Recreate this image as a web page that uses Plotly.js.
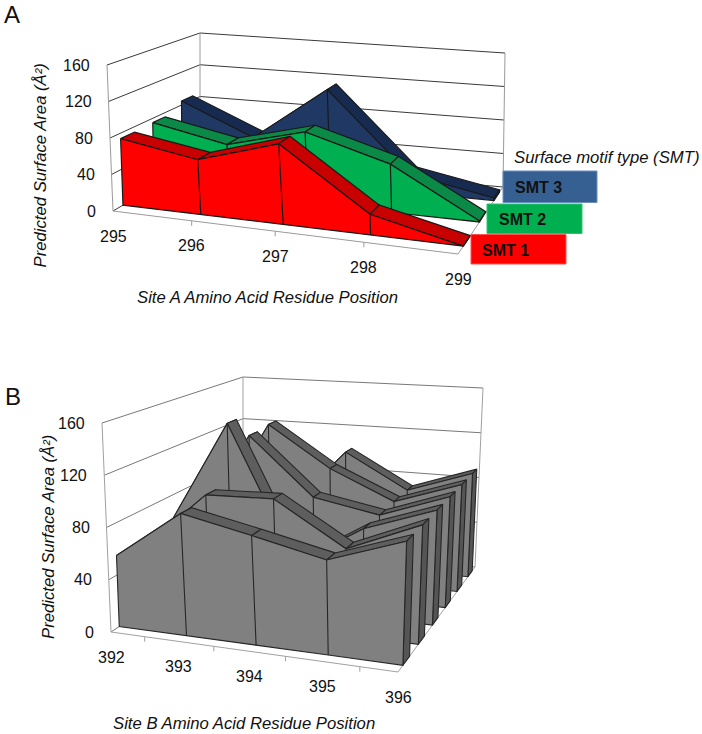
<!DOCTYPE html>
<html>
<head>
<meta charset="utf-8">
<script src="https://cdn.plot.ly/plotly-3.0.1.min.js"></script>
<style>html,body{margin:0;padding:0;background:#fff}#chart{width:702px;height:734px}</style>
</head>
<body>
<div id="chart"></div>
<script>
// ---------- data ----------
const categoriesA = ['295','296','297','298','299'];
const smt1 = [74, 60, 87, 22, 0];
const smt2 = [75, 58, 81, 54, 1];
const smt3 = [85, 48, 113, 21, 3];
const categoriesB = ['392','393','394','395','396'];
const siteB1 = [55, 93, 82, 70, 90];
const siteB2 = [50, 97, 99, 66, 90];
const siteB3 = [55, 146, 37, 70, 90];
const siteB4 = [40, 128, 80, 70, 90];
const siteB5 = [40, 130, 95, 71, 90];
const siteB6 = [45, 45, 101, 71, 90];
const yTicks = [0, 40, 80, 120, 160];
const legendNames = ['SMT 1', 'SMT 2', 'SMT 3'];

// ---------- projection of the two 3D boxes onto the page ----------
function quad(p) {
  const [p0,p1,p2,p3] = p;
  const dx1=p1[0]-p2[0], dx2=p3[0]-p2[0], sx=p0[0]-p1[0]+p2[0]-p3[0];
  const dy1=p1[1]-p2[1], dy2=p3[1]-p2[1], sy=p0[1]-p1[1]+p2[1]-p3[1];
  const den=dx1*dy2-dx2*dy1;
  const g=(sx*dy2-dx2*sy)/den, h=(dx1*sy-sx*dy1)/den;
  const a=p1[0]-p0[0]+g*p1[0], b=p3[0]-p0[0]+h*p3[0], c=p0[0];
  const d=p1[1]-p0[1]+g*p1[1], e=p3[1]-p0[1]+h*p3[1], f=p0[1];
  return (u,v)=>{const w=g*u+h*v+1;return [(a*u+b*v+c)/w,(d*u+e*v+f)/w];};
}
function box(floor, top, yMax, warp) {
  const F=quad(floor), T=quad(top);
  return (u0,v,val)=>{
    const u=u0+warp*u0*(1-u0);
    const a=F(u,v), b=T(u,v), t=val/yMax;
    return [a[0]+(b[0]-a[0])*t, a[1]+(b[1]-a[1])*t];
  };
}
const projA = box([[113,211],[458,254],[503,187],[200,160]],
                  [[107,65],[460,100],[505,53],[200,33]], 160, 0.07);
const projB = box([[111,632],[398,672],[475,567],[243,543.5]],
                  [[102,423],[404,449],[483,388],[243,377]], 160, 0.03);

const traces = [];
const shapes = [];
const annotations = [];

function addPoly(pts, fill, lineColor, width) {
  const xs=pts.map(p=>p[0]), ys=pts.map(p=>p[1]);
  xs.push(xs[0]); ys.push(ys[0]);
  traces.push({type:'scatter',mode:'lines',x:xs,y:ys,fill:'toself',fillcolor:fill,
    line:{color:lineColor,width:width},hoverinfo:'skip',showlegend:false});
}
function addLine(a, b, color, width) {
  traces.push({type:'scatter',mode:'lines',x:[a[0],b[0]],y:[a[1],b[1]],
    line:{color:color,width:width},hoverinfo:'skip',showlegend:false});
}
function addText(x, y, text, size, opts) {
  annotations.push(Object.assign({xref:'x',yref:'y',x:x,y:y,text:text,showarrow:false,
    font:{family:'Liberation Sans, Arial, sans-serif',size:size,color:'#111'},
    xanchor:'center',yanchor:'middle'},opts||{}));
}

function drawWalls(proj, gridColor, frameColor, gw) {
  yTicks.forEach(t=>{
    addLine(proj(0,0,t), proj(0,1,t), gridColor, gw);
    addLine(proj(0,1,t), proj(1,1,t), gridColor, gw);
  });
  addLine(proj(0,0,0), proj(0,0,160), frameColor, 1);
  addLine(proj(0,1,0), proj(0,1,160), frameColor, 1);
  addLine(proj(1,1,0), proj(1,1,160), frameColor, 1);
  addLine(proj(0,0,0), proj(1,0,0), frameColor, 1);
  addLine(proj(1,0,0), proj(1,1,0), frameColor, 1);
}

function drawBand(proj, values, z0, z1, face, strip, side, edge, w) {
  const n = values.length;
  const u = i => i/(n-1);
  for (let i=0;i<n-1;i++) {
    addPoly([proj(u(i),z0,values[i]),proj(u(i+1),z0,values[i+1]),
             proj(u(i+1),z1,values[i+1]),proj(u(i),z1,values[i])],strip,edge,w);
  }
  addPoly([proj(1,z0,0),proj(1,z1,0),proj(1,z1,values[n-1]),proj(1,z0,values[n-1])],side,edge,w);
  const pts=[];
  for (let i=0;i<n;i++) pts.push(proj(u(i),z0,values[i]));
  for (let i=n-1;i>=0;i--) pts.push(proj(u(i),z0,0));
  addPoly(pts,face,edge,w);
  for (let i=1;i<n-1;i++) addLine(proj(u(i),z0,0),proj(u(i),z0,values[i]),edge,w);
}

// ---------- panel A ----------
drawWalls(projA,'#3a3a3a','#9a9a9a',1);
const seriesA=[smt1,smt2,smt3];
const colorsA=[['#ff0000','#c80000','#a00000'],['#00b050','#0a8a46','#087038'],['#1f3864','#172b50','#12233f']];
for (let k=2;k>=0;k--) {
  drawBand(projA,seriesA[k],(k+0.3)/3,(k+0.72)/3,colorsA[k][0],colorsA[k][1],colorsA[k][2],'#1a1a1a',1.2);
}
categoriesA.forEach((c,i)=>{
  const p=projA(i/4,0,0);
  addText(p[0],p[1]+25,c,16);
  if(i>0&&i<4) addLine(p,[p[0],p[1]+5],'#9a9a9a',1);
});
yTicks.forEach(t=>{
  const p=projA(0,0,t);
  addText(p[0]-15,p[1],String(t),16,{xanchor:'right'});
});

// ---------- panel B ----------
drawWalls(projB,'#555555','#a0a0a0',0.8);
const seriesB=[siteB1,siteB2,siteB3,siteB4,siteB5,siteB6];
for (let k=5;k>=0;k--) {
  drawBand(projB,seriesB[k],(k+0.3)/6,(k+0.72)/6,'#808080','#5e5e5e','#555555','#262626',1.1);
}
categoriesB.forEach((c,i)=>{
  const p=projB(i/4,0,0);
  addText(p[0],p[1]+25.5,c,16);
  if(i<4){const q=projB((i+0.5)/4,0,0); addLine(q,[q[0],q[1]+5],'#a0a0a0',1);}
});
yTicks.forEach(t=>{
  const p=projB(0,0,t);
  addText(p[0]-15,p[1],String(t),16,{xanchor:'right'});
});

// ---------- titles, labels, legend ----------
addText(12,14,'A',24);
addText(13,396.5,'B',24);
addText(39.5,166,'<i>Predicted Surface Area (Å²)</i>',16.7,{textangle:-90});
addText(267,297,'<i>Site A Amino Acid Residue Position</i>',16.7);
addText(48,537,'<i>Predicted Surface Area (Å²)</i>',16.7,{textangle:-90});
addText(243.5,723,'<i>Site B Amino Acid Residue Position</i>',16.7);
addText(606,157,'<i>Surface motif type (SMT)</i>',16.7);

const legendBoxes=[[471,234.5,566,264,'#ff0000','#ff5050'],[487,204,582,233.5,'#00b050','#30c070'],[503,171,597,202.5,'#376092','#6a8fc0']];
legendBoxes.forEach(b=>{
  shapes.push({type:'rect',xref:'x',yref:'y',x0:b[0],y0:b[1],x1:b[2],y1:b[3],fillcolor:b[4],line:{color:b[5],width:1},layer:'above'});
});
const boldFont={family:'Liberation Sans, Arial, sans-serif',size:16,color:'#111',weight:700};
addText(505.5,250,legendNames[0],16,{font:boldFont});
addText(522,219,legendNames[1],16,{font:boldFont});
addText(538,187.5,legendNames[2],16,{font:boldFont});

Plotly.newPlot('chart',traces,{
  width:702,height:734,margin:{l:0,r:0,t:0,b:0},
  paper_bgcolor:'#fff',plot_bgcolor:'#fff',showlegend:false,
  xaxis:{range:[0,702],visible:false,fixedrange:true},
  yaxis:{range:[734,0],visible:false,fixedrange:true},
  shapes:shapes,annotations:annotations
},{staticPlot:true,displayModeBar:false});
</script>
</body>
</html>
